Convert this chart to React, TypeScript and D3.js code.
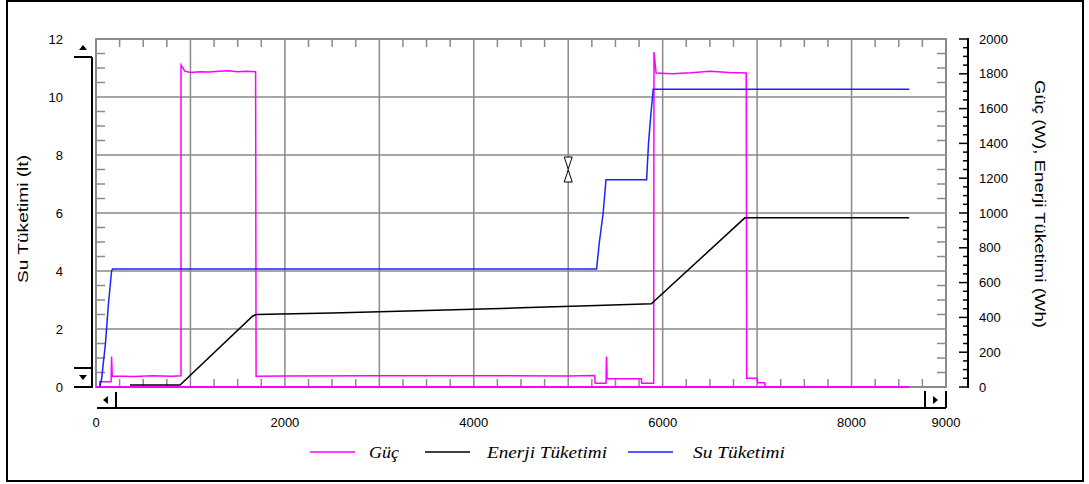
import * as d3 from 'd3';
import React from 'react';

// time (s) / value pairs
const suTuketimi: [number, number][] = [
  [40, 0], [60, 0.3], [100, 1.5], [130, 2.8], [165, 4.0], [175, 4.07],
  [5300, 4.07], [5330, 5.0], [5370, 6.0], [5400, 7.15], [5830, 7.15],
  [5850, 8.4], [5875, 9.4], [5900, 10.27], [8610, 10.27],
];

const enerjiTuketimi: [number, number][] = [
  [360, 11], [890, 11], [1660, 408], [1700, 417], [2500, 425], [3500, 440],
  [4500, 455], [5300, 468], [5880, 478], [6870, 972], [8610, 972],
];

const guc: [number, number][] = [
  [0, 0], [40, 0], [40, 30], [160, 30], [165, 175], [172, 63], [400, 60],
  [600, 65], [800, 62], [900, 64], [900, 1850], [940, 1815], [1000, 1808],
  [1100, 1812], [1200, 1810], [1300, 1815], [1400, 1818], [1500, 1812],
  [1600, 1815], [1690, 1812], [1695, 62], [2000, 63], [3000, 64], [4000, 65],
  [5000, 63], [5280, 66], [5285, 22], [5400, 22], [5405, 175], [5412, 48],
  [5775, 48], [5778, 22], [5905, 22], [5908, 1925], [5930, 1805], [6100, 1800],
  [6300, 1806], [6500, 1815], [6700, 1808], [6885, 1805], [6890, 50],
  [7000, 50], [7005, 25], [7080, 25], [7085, 0], [8610, 0],
];
const gucBaseline: [number, number][] = [[0, 0], [8610, 0]];

const xTicks = [0, 2000, 4000, 6000, 8000, 9000];
const leftTicks = [0, 2, 4, 6, 8, 10, 12];
const rightTicks = [0, 200, 400, 600, 800, 1000, 1200, 1400, 1600, 1800, 2000];

const legend = [
  { name: 'Güç', color: '#ff00ff', x1: 310, tx: 369, len: 30 },
  { name: 'Enerji Tüketimi', color: '#000000', x1: 425, tx: 487, len: 120 },
  { name: 'Su Tüketimi', color: '#2020ff', x1: 628, tx: 693, len: 92 },
];

const L = 96, R = 946, T = 39, B = 387;

const App = () => {
  const x = d3.scaleLinear().domain([0, 9000]).range([L, R]);
  const yL = d3.scaleLinear().domain([0, 12]).range([B, T]);
  const yR = d3.scaleLinear().domain([0, 2000]).range([B, T]);

  const lineL = d3.line<[number, number]>().x((d) => x(d[0])).y((d) => yL(d[1]));
  const lineR = d3.line<[number, number]>().x((d) => x(d[0])).y((d) => yR(d[1]));

  const minorX = d3.range(250, 9000, 250).filter((v) => v % 1000 !== 0);
  const minorY = d3.range(0.5, 12, 0.5).filter((v) => v % 2 !== 0);
  const rightMinor = d3.range(0, 2001, 50);

  const grid = '#8a8a8a';
  const font = '"Liberation Sans", Arial, sans-serif';

  return (
    <svg width={1089} height={484} style={{ position: 'absolute', left: 0, top: 0 }}>
      <rect x={0} y={0} width={1089} height={484} fill="#fff" />
      <rect x={7} y={1} width={1076} height={480} fill="none" stroke="#000" strokeWidth={2} />

      {/* grid */}
      {d3.range(1000, 9000, 1000).map((v) => (
        <line key={'gx' + v} x1={x(v)} x2={x(v)} y1={T} y2={B} stroke={grid} strokeWidth={1.5} />
      ))}
      {d3.range(2, 12, 2).map((v) => (
        <line key={'gy' + v} x1={L} x2={R} y1={yL(v)} y2={yL(v)} stroke={grid} strokeWidth={1.5} />
      ))}
      {minorX.map((v) => (
        <g key={'mx' + v} stroke={grid} strokeWidth={1.5}>
          <line x1={x(v)} x2={x(v)} y1={T} y2={T + 8} />
          <line x1={x(v)} x2={x(v)} y1={B} y2={B - 8} />
        </g>
      ))}
      {minorY.map((v) => (
        <g key={'my' + v} stroke={grid} strokeWidth={1.5}>
          <line x1={L} x2={L + 9} y1={yL(v)} y2={yL(v)} />
          <line x1={R} x2={R - 9} y1={yL(v)} y2={yL(v)} />
        </g>
      ))}
      <rect x={L} y={T} width={R - L} height={B - T} fill="none" stroke={grid} strokeWidth={2} />

      {/* series */}
      <path d={lineR(gucBaseline) ?? ''} fill="none" stroke="#ff00ff" strokeWidth={2} />
      <path d={lineR(guc) ?? ''} fill="none" stroke="#ff00ff" strokeWidth={1.5} />
      <path d={lineR(enerjiTuketimi) ?? ''} fill="none" stroke="#000" strokeWidth={1.5} />
      <path d={lineL(suTuketimi) ?? ''} fill="none" stroke="#2020ff" strokeWidth={1.5} />

      {/* cursor marker */}
      <path
        d={`M${x(5000) - 4},157 h8 l-4,12 z M${x(5000)},170 l4,12 h-8 z`}
        fill="#fff"
        stroke="#000"
        strokeWidth={1}
      />

      {/* left axis scroll element */}
      <g stroke="#000" strokeWidth={2}>
        <line x1={92} x2={92} y1={57} y2={B} />
        <line x1={74} x2={92} y1={57} y2={57} />
        <line x1={74} x2={92} y1={368} y2={368} />
        <line x1={74} x2={93} y1={B} y2={B} />
      </g>
      <path d="M79,50 l4,-5 l4,5 z" fill="#000" />
      <path d="M79,375 l4,5 l4,-5 z" fill="#000" />

      {/* bottom scroll element */}
      <g stroke="#000" strokeWidth={2}>
        <line x1={97} x2={R} y1={408} y2={408} />
        <line x1={116} x2={116} y1={392} y2={408} />
        <line x1={925} x2={925} y1={391} y2={408} />
        <line x1={R} x2={R} y1={391} y2={408} />
      </g>
      <path d="M108,396 l-5,4 l5,4 z" fill="#000" />
      <path d="M933,396 l5,4 l-5,4 z" fill="#000" />

      {/* left labels */}
      {leftTicks.map((v) => (
        <text key={'lt' + v} x={63} y={yL(v)} dy="0.35em" textAnchor="end" fontSize={13} fontFamily={font}>
          {v}
        </text>
      ))}
      {/* x labels */}
      {xTicks.map((v) => (
        <text key={'xt' + v} x={x(v)} y={427} textAnchor="middle" fontSize={13} fontFamily={font}>
          {v}
        </text>
      ))}

      {/* right axis */}
      <line x1={968} x2={968} y1={T - 1} y2={B + 1} stroke="#000" strokeWidth={2} />
      {rightMinor.map((v) => (
        <line
          key={'rm' + v}
          x1={v % 200 === 0 ? 959 : 963}
          x2={968}
          y1={yR(v)}
          y2={yR(v)}
          stroke="#000"
          strokeWidth={1.5}
        />
      ))}
      {rightTicks.map((v) => (
        <text key={'rt' + v} x={979} y={yR(v)} dy="0.35em" fontSize={13} fontFamily={font}>
          {v}
        </text>
      ))}

      {/* axis titles */}
      <text
        transform="translate(28,219) rotate(-90)"
        textAnchor="middle"
        fontSize={14}
        fontFamily={font}
        textLength={128}
        lengthAdjust="spacingAndGlyphs"
      >
        Su Tüketimi (lt)
      </text>
      <text
        transform="translate(1035,204) rotate(90)"
        textAnchor="middle"
        fontSize={14}
        fontFamily={font}
        textLength={248}
        lengthAdjust="spacingAndGlyphs"
      >
        Güç (W), Enerji Tüketimi (Wh)
      </text>

      {/* legend */}
      {legend.map((l) => (
        <g key={l.name}>
          <line x1={l.x1} x2={l.x1 + 45} y1={452} y2={452} stroke={l.color} strokeWidth={1.5} />
          <text
            x={l.tx}
            y={458}
            fontSize={17}
            fontStyle="italic"
            fontFamily='"Liberation Serif", "DejaVu Serif", serif'
            textLength={l.len}
            lengthAdjust="spacingAndGlyphs"
          >
            {l.name}
          </text>
        </g>
      ))}
    </svg>
  );
};

export default App;
